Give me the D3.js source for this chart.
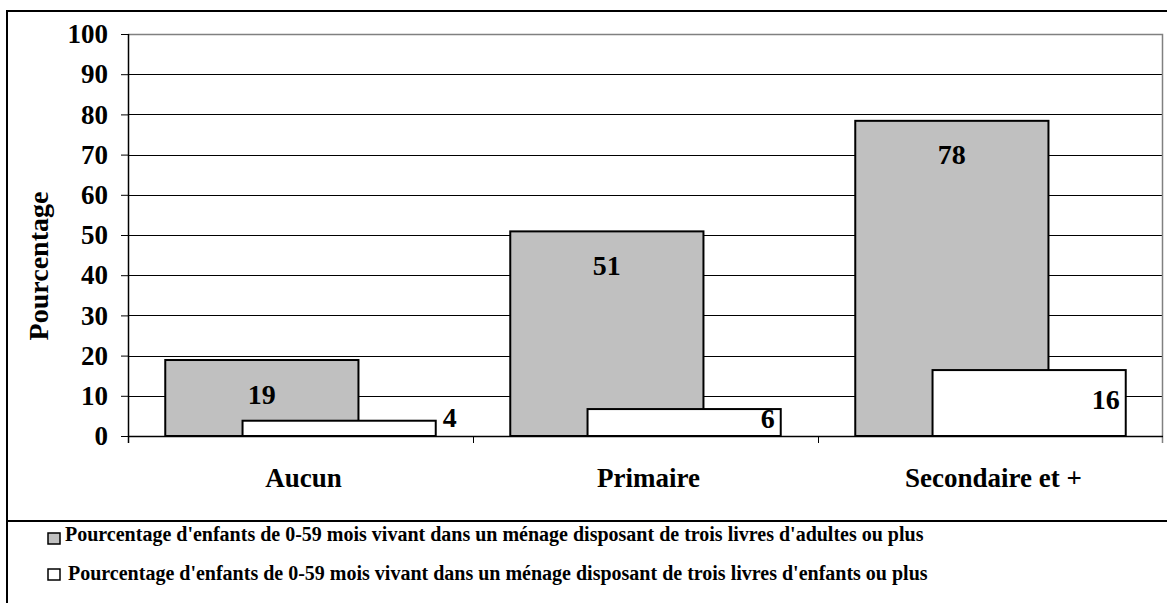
<!DOCTYPE html>
<html>
<head>
<meta charset="utf-8">
<script src="https://cdn.jsdelivr.net/npm/d3@7"></script>
<style>
  html, body { margin: 0; padding: 0; background: #fff; }
  svg { display: block; font-family: "Liberation Serif", "Times New Roman", serif; font-weight: bold; }
</style>
</head>
<body>
<svg id="chart"></svg>
<script>
const categories = ["Aucun", "Primaire", "Secondaire et +"];
const seriesNames = [
  "Pourcentage d'enfants de 0-59 mois vivant dans un ménage disposant de trois livres d'adultes ou plus",
  "Pourcentage d'enfants de 0-59 mois vivant dans un ménage disposant de trois livres d'enfants ou plus"
];
const adultBooks = [18.9, 50.9, 78.4];
const childBooks = [3.8, 6.7, 16.4];
const adultLabels = ["19", "51", "78"];
const childLabels = ["4", "6", "16"];
const yTicks = [0, 10, 20, 30, 40, 50, 60, 70, 80, 90, 100];

(() => {
  const width = 1167, height = 603;
  const plot = { left: 128, right: 1163, top: 34, bottom: 436 };
  const colors = ["#c0c0c0", "#ffffff"];

  const svg = d3.select("#chart").attr("width", width).attr("height", height);

  const x = d3.scaleBand().domain(categories).range([plot.left, plot.right]).padding(0);
  const y = d3.scaleLinear().domain([0, 100]).range([plot.bottom, plot.top]);

  const bw = x.bandwidth();
  const barW = bw * 0.56;
  const shift = bw * 0.224;
  const start = (bw - barW - shift) / 2;

  // outer frame
  svg.append("path")
    .attr("d", `M7,${height} V11 H${width}`)
    .attr("fill", "none").attr("stroke", "#000").attr("stroke-width", 2);
  svg.append("line")
    .attr("x1", 7).attr("x2", width).attr("y1", 521).attr("y2", 521)
    .attr("stroke", "#000").attr("stroke-width", 2);

  // gridlines
  svg.append("g").selectAll("line")
    .data(yTicks.filter(d => d > 0 && d < 100))
    .join("line")
    .attr("x1", plot.left).attr("x2", plot.right)
    .attr("y1", d => Math.round(y(d)) + 0.5).attr("y2", d => Math.round(y(d)) + 0.5)
    .attr("stroke", "#000").attr("stroke-width", 1);

  // plot border top/right (gray)
  svg.append("path")
    .attr("d", `M${plot.left},${Math.round(y(100)) + 0.5} H${plot.right - 0.5} V${plot.bottom + 7}`)
    .attr("fill", "none").attr("stroke", "#808080").attr("stroke-width", 1.5);

  // bars
  const series = [
    { name: seriesNames[0], values: adultBooks, labels: adultLabels, off: start },
    { name: seriesNames[1], values: childBooks, labels: childLabels, off: start + shift }
  ];

  series.forEach((s, si) => {
    svg.append("g").selectAll("rect")
      .data(categories.map((c, i) => ({ c, v: s.values[i] })))
      .join("rect")
      .attr("x", d => x(d.c) + s.off)
      .attr("y", d => y(d.v))
      .attr("width", barW)
      .attr("height", d => y(0) - y(d.v))
      .attr("fill", colors[si])
      .attr("stroke", "#000")
      .attr("stroke-width", 2);
  });

  // data labels
  svg.append("g").selectAll("text")
    .data(categories.map((c, i) => ({ c, v: adultBooks[i], t: adultLabels[i] })))
    .join("text")
    .attr("x", d => x(d.c) + start + barW / 2)
    .attr("y", d => y(d.v) + 34)
    .attr("text-anchor", "middle")
    .attr("dominant-baseline", "central")
    .style("font-size", "28px")
    .text(d => d.t);

  svg.append("g").selectAll("text")
    .data(categories.map((c, i) => ({ c, v: childBooks[i], t: childLabels[i] })))
    .join("text")
    .each(function (d) {
      const right = x(d.c) + start + shift + barW;
      const h = y(0) - y(d.v);
      const el = d3.select(this);
      if (h < 20) {
        el.attr("x", right + 7).attr("y", y(d.v) - 3).attr("text-anchor", "start");
      } else {
        el.attr("x", right - 6).attr("y", y(d.v) + h / 2 - 4).attr("text-anchor", "end");
      }
    })
    .attr("dominant-baseline", "central")
    .style("font-size", "28px")
    .text(d => d.t);

  // y axis
  const yAxis = svg.append("g")
    .attr("transform", `translate(${plot.left},0)`)
    .call(d3.axisLeft(y).tickValues(yTicks).tickSize(7).tickPadding(13).tickSizeOuter(0));
  yAxis.select(".domain").attr("stroke", "#000").attr("stroke-width", 1.5)
    .attr("d", `M0.5,${y(100)}V${plot.bottom + 7}`);
  yAxis.selectAll(".tick line").attr("stroke", "#000");
  yAxis.selectAll(".tick text")
    .style("font-size", "27px").style("font-family", "Liberation Serif, serif")
    .style("font-weight", "bold").attr("fill", "#000");

  // x axis
  const xAxis = svg.append("g")
    .attr("transform", `translate(0,${plot.bottom})`);
  xAxis.append("line")
    .attr("x1", plot.left).attr("x2", plot.right)
    .attr("y1", 0.5).attr("y2", 0.5)
    .attr("stroke", "#000").attr("stroke-width", 1.5);
  xAxis.selectAll(".sep")
    .data(categories.slice(1))
    .join("line")
    .attr("x1", d => x(d) + 0.5).attr("x2", d => x(d) + 0.5)
    .attr("y1", 0).attr("y2", 7)
    .attr("stroke", "#000");
  xAxis.selectAll("text")
    .data(categories)
    .join("text")
    .attr("x", d => x(d) + bw / 2 + 3)
    .attr("y", 51)
    .attr("text-anchor", "middle")
    .style("font-size", "27px")
    .text(d => d);

  // y title
  svg.append("text")
    .attr("transform", "translate(48,266) rotate(-90)")
    .attr("text-anchor", "middle")
    .style("font-size", "28px")
    .text("Pourcentage");

  // legend
  const legend = svg.append("g");
  const rowsY = [541, 580];
  const leg = legend.selectAll("g")
    .data(series)
    .join("g");
  leg.append("rect")
    .attr("x", 48).attr("y", (d, i) => i === 0 ? 533 : 569)
    .attr("width", 12).attr("height", 11)
    .attr("fill", (d, i) => colors[i])
    .attr("stroke", "#000").attr("stroke-width", 1.5);
  leg.append("text")
    .attr("x", (d, i) => i === 0 ? 65 : 68)
    .attr("y", (d, i) => rowsY[i])
    .style("font-size", "20px")
    .text(d => d.name);
})();
</script>
</body>
</html>
